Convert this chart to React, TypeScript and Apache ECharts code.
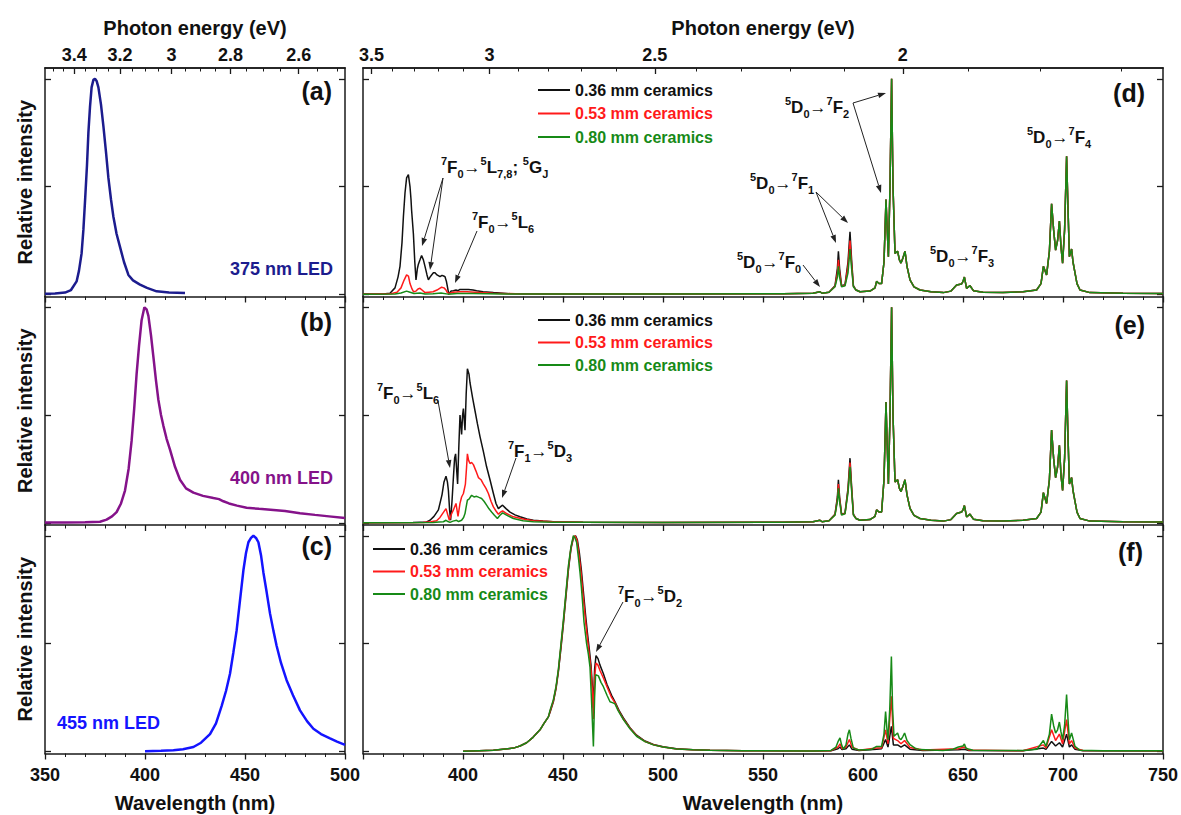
import React, { useEffect, useRef } from 'react';
import * as echarts from 'echarts';

const FONT = 'Arial, "Liberation Sans", sans-serif';
const HC = 1239.84;

// ---------- axis values ----------
const Y_TICKS = [0, 0.5, 1];
const EV_MAJOR_LEFT = [3.4, 3.2, 3.0, 2.8, 2.6];
const EV_MINOR_LEFT = [3.5, 3.45, 3.4, 3.35, 3.3, 3.25, 3.2, 3.15, 3.1, 3.05, 3.0, 2.95, 2.9, 2.85, 2.8, 2.75, 2.7, 2.65, 2.6, 2.55, 2.5];
const EV_MAJOR_RIGHT = [3.5, 3.0, 2.5, 2.0];
const EV_MINOR_RIGHT = [3.5, 3.4, 3.3, 3.2, 3.1, 3.0, 2.9, 2.8, 2.7, 2.6, 2.5, 2.4, 2.3, 2.2, 2.1, 2.0, 1.9, 1.8, 1.7];

// ---------- LED spectra ----------
const LED375 = [[350,0.003],[355,0.004],[360,0.008],[363,0.02],[365.8,0.06],[367,0.11],[368.3,0.19],[369.2,0.3],[370,0.43],[371,0.6],[371.7,0.75],[372.5,0.87],[373.3,0.96],[374.2,0.995],[375,1.0],[375.8,0.99],[376.7,0.96],[378,0.88],[379.2,0.78],[380.5,0.66],[381.7,0.54],[383,0.44],[384.2,0.36],[385.8,0.28],[387.5,0.22],[389.5,0.15],[391.7,0.09],[394,0.065],[397.5,0.045],[401,0.03],[405.8,0.014],[412,0.009],[420,0.006]];
const LED400 = [[350,0.002],[360,0.002],[370,0.003],[377.5,0.005],[380.8,0.015],[383.5,0.03],[385.8,0.05],[388,0.09],[390,0.15],[391.8,0.25],[393.3,0.38],[394.6,0.53],[395.8,0.69],[397,0.82],[398.3,0.94],[399.7,1.0],[400.8,0.99],[401.7,0.96],[403,0.87],[404.2,0.77],[405.5,0.66],[406.7,0.57],[408,0.5],[409.2,0.45],[410.8,0.39],[412.5,0.34],[415,0.26],[417.5,0.2],[420.5,0.16],[424.2,0.14],[429,0.125],[434.2,0.115],[437,0.11],[439.2,0.1],[442,0.09],[446,0.08],[450.8,0.07],[457,0.065],[464.2,0.06],[470,0.055],[477.5,0.045],[485,0.037],[492,0.03],[500,0.022]];
const LED455 = [[400,0.001],[408,0.003],[414.2,0.005],[419,0.01],[424.2,0.02],[428,0.04],[432.5,0.08],[435.5,0.13],[438.3,0.21],[440.5,0.28],[442.5,0.36],[444.2,0.46],[445.8,0.56],[447.5,0.7],[449.2,0.84],[450.5,0.92],[451.7,0.97],[453,0.99],[454.2,1.0],[455.5,0.99],[456.7,0.97],[458,0.91],[459.2,0.83],[460.8,0.74],[462.5,0.64],[464.2,0.56],[465.8,0.49],[468,0.41],[470.8,0.33],[474,0.26],[477.5,0.19],[481,0.14],[484.2,0.105],[488,0.08],[492.5,0.06],[496,0.045],[500,0.03]];

// ---------- (d) 375 nm excitation ----------
const D_BLACK_EXC = [[350,0.002],[360,0.002],[363.5,0.005],[366,0.03],[367.5,0.08],[368.5,0.13],[369.5,0.24],[370.2,0.36],[371,0.47],[371.8,0.54],[372.7,0.555],[373.5,0.5],[374,0.44],[374.3,0.39],[375.2,0.28],[375.9,0.15],[376.5,0.067],[377.2,0.12],[377.7,0.14],[378.5,0.16],[379.3,0.18],[380.2,0.16],[381,0.13],[382,0.09],[382.7,0.067],[383.5,0.08],[384.3,0.09],[385.2,0.1],[386,0.1],[387,0.09],[388.5,0.082],[389.5,0.088],[390.3,0.085],[391,0.082],[391.7,0.06],[392.2,0.036],[392.7,0.01],[393.2,0.005],[394,0.015],[395.2,0.017],[396.5,0.02],[397.5,0.017],[398.5,0.023],[400.5,0.022],[402.7,0.023],[405,0.02],[406.8,0.017],[410,0.012],[415.2,0.008],[423.5,0.003],[440,0.002]];
const D_RED_EXC = [[350,0.001],[364,0.003],[367,0.01],[369,0.03],[370.5,0.065],[371.8,0.09],[372.7,0.085],[373.5,0.05],[374.5,0.025],[375.3,0.012],[376.5,0.015],[377.5,0.025],[378.5,0.028],[379.5,0.02],[381,0.008],[383,0.01],[385,0.012],[387,0.02],[389.3,0.033],[390.5,0.03],[391.5,0.02],[392.2,0.008],[393,0.004],[395,0.01],[398.5,0.012],[402,0.012],[406,0.01],[415,0.005],[430,0.002]];
const D_GREEN_EXC = [[350,0.001],[366,0.002],[369,0.006],[371.8,0.015],[373.5,0.01],[375.5,0.004],[378.5,0.006],[381,0.002],[385,0.003],[389,0.006],[392.5,0.001],[397,0.004],[405,0.004],[420,0.002]];
const D_BASE = [[450,0.002],[500,0.002],[560,0.003],[575,0.005],[578.5,0.012],[579.5,0.005],[583,0.01]];
const D_BLACK_F1 = [[586,0.04],[587.2,0.12],[587.7,0.2],[588.3,0.12],[589.3,0.04],[591,0.045],[592.5,0.15],[593.5,0.29],[594.3,0.16],[595.2,0.04],[596.5,0.02],[598.5,0.012]];
const D_RED_F1 = [[586,0.037],[587.2,0.1],[587.7,0.16],[588.3,0.1],[589.3,0.037],[591,0.042],[592.5,0.13],[593.5,0.25],[594.3,0.14],[595.2,0.037],[596.5,0.02],[598.5,0.012]];
const D_GREEN_F1 = [[586,0.035],[587.2,0.08],[587.7,0.13],[588.3,0.08],[589.3,0.035],[591,0.04],[592.5,0.1],[593.5,0.21],[594.3,0.12],[595.2,0.035],[596.5,0.02],[598.5,0.012]];
const D_EM_REST = [[603.5,0.015],[606,0.03],[606.8,0.06],[608,0.05],[609.3,0.05],[610.5,0.15],[611.5,0.44],[612.2,0.28],[612.7,0.175],[613.5,0.5],[614.3,1.0],[615,0.5],[616,0.19],[617.3,0.2],[618.2,0.16],[619,0.145],[620,0.17],[621,0.2],[622,0.13],[623.5,0.067],[625.5,0.035],[628.5,0.02],[634,0.012],[640.2,0.008],[644,0.015],[646.8,0.043],[649.3,0.048],[650,0.06],[650.7,0.08],[651.8,0.028],[653.5,0.04],[655.2,0.017],[660,0.01],[670,0.008],[680,0.012],[686.8,0.02],[689,0.05],[690.2,0.13],[691.8,0.09],[693.2,0.2],[694.3,0.42],[695.3,0.3],[696.3,0.205],[697.3,0.25],[698.2,0.34],[699,0.22],[699.8,0.145],[700.8,0.3],[701.8,0.64],[702.5,0.4],[703.2,0.175],[704.3,0.21],[705,0.15],[706,0.1],[707,0.05],[708.5,0.02],[713.5,0.008],[730,0.005],[750,0.004]];

// ---------- (e) 400 nm excitation ----------
const E_BLACK_EXC = [[350,0.001],[375,0.002],[381.8,0.004],[383.5,0.012],[385.5,0.03],[387.7,0.06],[389.5,0.13],[390.5,0.19],[391.5,0.216],[392.2,0.19],[392.7,0.15],[393.3,0.06],[393.8,0.012],[394.5,0.1],[395.2,0.21],[395.8,0.3],[396.3,0.32],[396.8,0.25],[397.3,0.18],[397.9,0.35],[398.5,0.5],[399,0.45],[399.3,0.41],[399.8,0.5],[400.2,0.53],[400.6,0.48],[401,0.43],[401.6,0.6],[402.2,0.715],[403,0.69],[403.5,0.65],[404.8,0.58],[406,0.52],[407.2,0.46],[408.5,0.4],[410.2,0.33],[411.8,0.26],[413.5,0.2],[415.2,0.136],[416.5,0.09],[417.7,0.066],[418.8,0.075],[419.8,0.082],[421.5,0.066],[423.5,0.05],[426,0.037],[428.5,0.028],[432,0.018],[435.2,0.012],[440,0.008],[445.2,0.005]];
const E_RED_EXC = [[350,0.001],[380,0.002],[384,0.005],[386.8,0.01],[388.5,0.025],[390.3,0.05],[391.5,0.066],[392.3,0.04],[393.2,0.012],[394.2,0.04],[395.2,0.06],[396.5,0.09],[397.5,0.03],[398.5,0.09],[399.3,0.12],[400.2,0.136],[401.2,0.18],[401.8,0.26],[402.2,0.32],[402.8,0.29],[403.5,0.275],[404.3,0.28],[405.2,0.27],[406.5,0.24],[407.7,0.21],[409,0.2],[410.2,0.18],[411.5,0.16],[412.7,0.136],[414,0.1],[415.2,0.074],[416.5,0.055],[417.7,0.04],[418.8,0.05],[419.8,0.056],[422,0.042],[425.2,0.028],[430,0.018],[435.2,0.01],[445,0.005]];
const E_GREEN_EXC = [[350,0.001],[385,0.002],[388,0.004],[390.2,0.005],[391.5,0.012],[392.5,0.006],[393.5,0.002],[395,0.008],[396.8,0.012],[397.8,0.006],[399.3,0.012],[400.3,0.025],[401,0.043],[401.7,0.08],[402.2,0.105],[403,0.11],[404.3,0.128],[405.5,0.12],[406.8,0.123],[408,0.118],[409.3,0.113],[410.5,0.1],[411.8,0.082],[413,0.065],[414.3,0.05],[415.7,0.035],[417.2,0.02],[418.5,0.035],[419.8,0.046],[422,0.035],[425.2,0.02],[430,0.01],[435.2,0.005],[445,0.003]];
const E_BASE = [[460,0.003],[500,0.002],[560,0.003],[575,0.005],[578.5,0.012],[579.5,0.005],[583,0.01]];
const E_BLACK_F1 = [[586,0.04],[587.2,0.12],[587.7,0.2],[588.3,0.12],[589.3,0.04],[591,0.045],[592.5,0.16],[593.5,0.3],[594.3,0.17],[595.2,0.04],[596.5,0.02],[598.5,0.012]];
const E_RED_F1 = [[586,0.038],[587.2,0.11],[587.7,0.18],[588.3,0.11],[589.3,0.038],[591,0.043],[592.5,0.15],[593.5,0.28],[594.3,0.16],[595.2,0.038],[596.5,0.02],[598.5,0.012]];
const E_GREEN_F1 = [[586,0.036],[587.2,0.1],[587.7,0.16],[588.3,0.1],[589.3,0.036],[591,0.042],[592.5,0.14],[593.5,0.26],[594.3,0.15],[595.2,0.036],[596.5,0.02],[598.5,0.012]];
const E_EM_REST = [[603.5,0.015],[606,0.03],[606.8,0.06],[608,0.05],[609.3,0.05],[610.5,0.2],[611.5,0.56],[612.2,0.33],[612.7,0.18],[613.5,0.5],[614.3,1.0],[615,0.5],[616,0.19],[617.3,0.2],[618.2,0.16],[619,0.145],[620,0.17],[621,0.2],[622,0.13],[623.5,0.067],[625.5,0.035],[628.5,0.02],[634,0.012],[640.2,0.008],[644,0.015],[646.8,0.043],[649.3,0.05],[650,0.06],[650.7,0.08],[651.8,0.028],[653.5,0.04],[655.2,0.017],[660,0.01],[670,0.008],[680,0.012],[686.8,0.02],[689,0.05],[690.2,0.14],[691.8,0.09],[693.2,0.2],[694.3,0.43],[695.3,0.3],[696.3,0.21],[697.3,0.26],[698.2,0.36],[699,0.22],[699.8,0.15],[700.8,0.3],[701.8,0.66],[702.5,0.4],[703.2,0.18],[704.3,0.21],[705,0.15],[706,0.1],[707,0.05],[708.5,0.02],[713.5,0.008],[730,0.005],[750,0.004]];

// ---------- (f) 455 nm excitation ----------
const F_BLACK_EXC = [[400,0.0],[408,0.003],[415.2,0.005],[420,0.01],[425.2,0.015],[428.5,0.025],[431.8,0.04],[435,0.065],[438.5,0.1],[440.5,0.13],[442.7,0.16],[443.5,0.18],[445.2,0.23],[446.5,0.29],[447.7,0.37],[449,0.48],[450.2,0.59],[451.5,0.72],[452.7,0.84],[454,0.94],[455.2,0.99],[456.3,1.0],[457.2,0.98],[458.2,0.92],[459.2,0.84],[460.2,0.74],[461.2,0.64],[462.2,0.55],[463.2,0.47],[464,0.4],[464.7,0.3],[465.2,0.2],[465.8,0.38],[466.5,0.444],[467.5,0.43],[468.5,0.4],[470.2,0.36],[472,0.31],[474.3,0.26],[476,0.23],[478,0.19],[480.2,0.155],[483.5,0.11],[486.8,0.075],[491,0.048],[495.2,0.032],[500,0.021],[506.8,0.012],[515,0.007],[523.5,0.005],[540,0.003],[575,0.002]];
const F_RED_EXC = [[400,0.0],[408,0.003],[415.2,0.005],[420,0.01],[425.2,0.015],[428.5,0.025],[431.8,0.04],[435,0.065],[438.5,0.1],[440.5,0.13],[442.7,0.16],[443.5,0.185],[445.2,0.235],[446.5,0.295],[447.7,0.375],[449,0.49],[450.2,0.6],[451.5,0.73],[452.7,0.85],[454,0.945],[455.2,0.995],[456,1.0],[457,0.98],[458,0.91],[459,0.83],[460,0.73],[461,0.63],[462,0.54],[463,0.46],[464,0.38],[464.7,0.28],[465.2,0.15],[465.8,0.34],[466.5,0.41],[467.5,0.4],[468.5,0.375],[470.2,0.34],[472,0.3],[474.3,0.25],[476,0.225],[478,0.185],[480.2,0.15],[483.5,0.107],[486.8,0.072],[491,0.046],[495.2,0.031],[500,0.02],[506.8,0.011],[515,0.007],[523.5,0.005],[540,0.003],[575,0.002]];
const F_GREEN_EXC = [[400,0.0],[408,0.003],[415.2,0.005],[420,0.01],[425.2,0.015],[428.5,0.025],[431.8,0.04],[435,0.065],[438.5,0.1],[440.5,0.13],[442.7,0.16],[443.5,0.19],[445.2,0.24],[446.5,0.3],[447.7,0.38],[449,0.5],[450.2,0.61],[451.5,0.74],[452.7,0.86],[454,0.95],[455.2,1.0],[456,0.99],[456.8,0.97],[457.7,0.9],[458.5,0.83],[459.2,0.76],[459.8,0.69],[460.5,0.6],[461.8,0.5],[462.7,0.45],[463.5,0.39],[464.2,0.25],[465.2,0.023],[465.8,0.25],[466.3,0.355],[467.7,0.35],[469,0.32],[470.2,0.3],[472,0.26],[473.5,0.23],[475,0.225],[476,0.22],[477.5,0.19],[480.2,0.147],[483.5,0.105],[486.8,0.07],[491,0.045],[495.2,0.03],[500,0.02],[506.8,0.011],[515,0.007],[523.5,0.005],[540,0.003],[575,0.002]];
const F_BLACK_EM = [[584,0.003],[587.5,0.012],[588.5,0.02],[589.5,0.008],[591.5,0.012],[593.2,0.03],[594.5,0.01],[598,0.004],[606.8,0.01],[609.3,0.012],[611.3,0.055],[612.5,0.02],[614.2,0.116],[615.2,0.03],[617.3,0.03],[619,0.02],[620.8,0.03],[623.5,0.01],[630,0.004],[647.7,0.007],[650.7,0.01],[653,0.004],[680,0.003],[690.2,0.015],[691.5,0.009],[694.3,0.046],[696.3,0.025],[698.2,0.04],[699.8,0.02],[701.8,0.08],[703.2,0.02],[704.3,0.03],[706,0.01],[710,0.003],[750,0.002]];
const F_RED_EM = [[584,0.003],[587.5,0.02],[588.5,0.035],[589.5,0.012],[591.5,0.02],[593.2,0.055],[594.5,0.02],[598,0.005],[606.8,0.015],[609.3,0.016],[611.3,0.1],[612.5,0.035],[614.2,0.255],[615.2,0.06],[617.3,0.05],[619,0.035],[620.8,0.05],[623.5,0.018],[630,0.006],[647.7,0.012],[650.7,0.02],[653,0.006],[680,0.003],[690.2,0.03],[691.5,0.015],[694.3,0.1],[696.3,0.05],[698.2,0.08],[699.8,0.035],[701.8,0.147],[703.2,0.035],[704.3,0.05],[706,0.015],[710,0.004],[750,0.003]];
const F_GREEN_EM = [[584,0.004],[586.5,0.02],[587.5,0.045],[588.5,0.062],[589.3,0.03],[590.2,0.01],[591.5,0.03],[592.5,0.08],[593.2,0.1],[594,0.06],[595.2,0.015],[598,0.006],[604,0.008],[606.8,0.023],[609.3,0.023],[610.5,0.08],[611.3,0.185],[612,0.1],[612.5,0.054],[613.4,0.2],[614.2,0.44],[614.8,0.2],[615.5,0.07],[617.3,0.085],[618.2,0.06],[619,0.054],[620,0.07],[620.8,0.085],[622,0.05],[623.5,0.031],[626,0.015],[628.5,0.008],[640,0.004],[645,0.01],[647.7,0.02],[650,0.025],[650.7,0.034],[651.5,0.015],[652.7,0.011],[655,0.005],[680,0.004],[687,0.01],[690.2,0.05],[691.5,0.023],[693.2,0.08],[694.3,0.173],[695.3,0.12],[696.3,0.085],[697.3,0.1],[698.2,0.136],[699,0.09],[699.8,0.054],[700.8,0.12],[701.8,0.263],[702.5,0.15],[703.2,0.054],[704.3,0.085],[705,0.06],[706,0.023],[708.5,0.005],[720,0.003],[750,0.003]];

const D_BLACK = [...D_BLACK_EXC, ...D_BASE, ...D_BLACK_F1, ...D_EM_REST];
const D_RED = [...D_RED_EXC, ...D_BASE, ...D_RED_F1, ...D_EM_REST];
const D_GREEN = [...D_GREEN_EXC, ...D_BASE, ...D_GREEN_F1, ...D_EM_REST];
const E_BLACK = [...E_BLACK_EXC, ...E_BASE, ...E_BLACK_F1, ...E_EM_REST];
const E_RED = [...E_RED_EXC, ...E_BASE, ...E_RED_F1, ...E_EM_REST];
const E_GREEN = [...E_GREEN_EXC, ...E_BASE, ...E_GREEN_F1, ...E_EM_REST];
const F_BLACK = [...F_BLACK_EXC, ...F_BLACK_EM];
const F_RED = [...F_RED_EXC, ...F_RED_EM];
const F_GREEN = [...F_GREEN_EXC, ...F_GREEN_EM];

const LEGEND_NAMES = ['0.36 mm ceramics', '0.53 mm ceramics', '0.80 mm ceramics'];

// ---------- colors ----------
const C_NAVY = '#1c1c8e';
const C_PURPLE = '#85128a';
const C_BLUE = '#1414ff';
const C_BLACK = '#111111';
const C_RED = '#ff1a1a';
const C_GREEN = '#178a17';
const AXIS_C = '#1a1a1a';

// ---------- layout ----------
const GRIDS = [
  { left: 45, top: 68, width: 300, height: 228.5 },
  { left: 45, top: 296.5, width: 300, height: 228.5 },
  { left: 45, top: 525, width: 300, height: 228.5 },
  { left: 363, top: 68, width: 800, height: 228.5 },
  { left: 363, top: 296.5, width: 800, height: 228.5 },
  { left: 363, top: 525, width: 800, height: 228.5 },
];

const labelFont = { fontFamily: FONT, fontWeight: 'bold' as const, color: '#111' };

function bottomAxis(g: number, max: number, showLabels: boolean, hideMin: boolean) {
  return {
    type: 'value', gridIndex: g, position: 'bottom', min: 350, max, interval: 50,
    axisLine: { show: true, onZero: false, lineStyle: { color: AXIS_C, width: 1.5 } },
    axisTick: { show: true, length: 6, lineStyle: { color: AXIS_C, width: 1.3 } },
    minorTick: { show: true, splitNumber: 5, length: 3.5, lineStyle: { color: AXIS_C, width: 1 } },
    axisLabel: { show: showLabels, fontSize: 18, margin: 12, showMinLabel: !hideMin, ...labelFont },
    splitLine: { show: false }, minorSplitLine: { show: false },
    name: showLabels ? 'Wavelength (nm)' : '', nameLocation: 'middle', nameGap: 39,
    nameTextStyle: { fontSize: 20, ...labelFont },
  };
}

function energyAxis(g: number, max: number, ev: number[], major: boolean, name: string) {
  const vals = ev.map((e) => HC / e);
  return {
    type: 'value', gridIndex: g, position: 'top', min: 350, max,
    axisLine: { show: true, onZero: false, lineStyle: { color: AXIS_C, width: 1.5 } },
    axisTick: { show: true, inside: true, length: major ? 6 : 3.5, customValues: vals, lineStyle: { color: AXIS_C, width: major ? 1.3 : 1 } },
    axisLabel: major
      ? { show: true, customValues: vals, fontSize: 18, margin: 4, ...labelFont, formatter: (v: number) => String(parseFloat((HC / v).toFixed(2))) }
      : { show: false },
    splitLine: { show: false },
    name: major ? name : '', nameLocation: 'middle', nameGap: 30,
    nameTextStyle: { fontSize: 20, ...labelFont },
  };
}

function yAxis(g: number, pos: string, name: string) {
  return {
    type: 'value', gridIndex: g, position: pos, min: -0.01, max: 1.05,
    axisLine: { show: true, onZero: false, lineStyle: { color: AXIS_C, width: 1.5 } },
    axisTick: { show: true, inside: true, length: 6, customValues: Y_TICKS, lineStyle: { color: AXIS_C, width: 1.3 } },
    axisLabel: { show: false }, splitLine: { show: false },
    name, nameLocation: 'middle', nameGap: 10,
    nameTextStyle: { fontSize: 20, ...labelFont },
  };
}

function line(data: number[][], color: string, width: number, xi: number, yi: number, name?: string) {
  return {
    type: 'line', name, data, xAxisIndex: xi, yAxisIndex: yi, showSymbol: false, symbol: 'none',
    lineStyle: { color, width }, itemStyle: { color }, silent: true, z: 3, animation: false,
  };
}

// ---------- annotation helpers ----------
const RICH = {
  m: { fontSize: 17, fontWeight: 'bold', fontFamily: FONT, fill: '#111', lineHeight: 24 },
  p: { fontSize: 11, fontWeight: 'bold', fontFamily: FONT, fill: '#111', verticalAlign: 'top', lineHeight: 12 },
  b: { fontSize: 11, fontWeight: 'bold', fontFamily: FONT, fill: '#111', verticalAlign: 'bottom', lineHeight: 12 },
  a: { fontSize: 17, fontWeight: 'normal', fontFamily: FONT, fill: '#111', lineHeight: 24 },
};

function rt(text: string, x: number, y: number) {
  return {
    type: 'text', x, y, z: 100, silent: true,
    style: { text, rich: RICH, align: 'left', verticalAlign: 'middle', textAlign: 'left', textVerticalAlign: 'middle', fontSize: 17, fontFamily: FONT, fontWeight: 'bold', fill: '#111' },
  };
}

function txt(text: string, x: number, y: number, size: number, color: string, align = 'left') {
  return {
    type: 'text', x, y, z: 100, silent: true,
    style: { text, fontSize: size, fontFamily: FONT, fontWeight: 'bold', fill: color, align, verticalAlign: 'middle', textAlign: align, textVerticalAlign: 'middle' },
  };
}

function arrow(x1: number, y1: number, x2: number, y2: number) {
  const ang = Math.atan2(y2 - y1, x2 - x1);
  const L = 8, W = 2.8;
  const bx = x2 - L * Math.cos(ang), by = y2 - L * Math.sin(ang);
  const px = -Math.sin(ang) * W, py = Math.cos(ang) * W;
  return [
    { type: 'line', z: 100, silent: true, shape: { x1, y1, x2: bx, y2: by }, style: { stroke: '#222', lineWidth: 1 } },
    { type: 'polygon', z: 100, silent: true, shape: { points: [[x2, y2], [bx + px, by + py], [bx - px, by - py]] }, style: { fill: '#222' } },
  ];
}

function legend(x: number, y0: number, dy: number) {
  const cols = [C_BLACK, C_RED, C_GREEN];
  const out: any[] = [];
  LEGEND_NAMES.forEach((n, i) => {
    const y = y0 + i * dy;
    out.push({ type: 'line', z: 100, silent: true, shape: { x1: x, y1: y, x2: x + 32, y2: y }, style: { stroke: cols[i], lineWidth: 2 } });
    out.push(txt(n, x + 37, y, 16, cols[i]));
  });
  return out;
}

const T_L78 = '{p|7}{m|F}{b|0}{a|→}{p|5}{m|L}{b|7,8}{m|; }{p|5}{m|G}{b|J}';
const T_L6 = '{p|7}{m|F}{b|0}{a|→}{p|5}{m|L}{b|6}';
const T_D2 = '{p|7}{m|F}{b|0}{a|→}{p|5}{m|D}{b|2}';
const T_D3 = '{p|7}{m|F}{b|1}{a|→}{p|5}{m|D}{b|3}';
const t5D0 = (j: string) => `{p|5}{m|D}{b|0}{a|→}{p|7}{m|F}{b|${j}}`;

export default function App() {
  const ref = useRef<HTMLDivElement>(null);
  useEffect(() => {
    const chart = echarts.init(ref.current!, null, { renderer: 'svg' });
    const xAxis: any[] = [
      bottomAxis(0, 500, false, false),
      bottomAxis(1, 500, false, false),
      bottomAxis(2, 500, true, false),
      bottomAxis(3, 750, false, true),
      bottomAxis(4, 750, false, true),
      bottomAxis(5, 750, true, true),
      energyAxis(0, 500, EV_MINOR_LEFT, false, ''),
      energyAxis(0, 500, EV_MAJOR_LEFT, true, 'Photon energy (eV)'),
      energyAxis(3, 750, EV_MINOR_RIGHT, false, ''),
      energyAxis(3, 750, EV_MAJOR_RIGHT, true, 'Photon energy (eV)'),
    ];
    const yAxes: any[] = [];
    for (let g = 0; g < 6; g++) yAxes.push(yAxis(g, 'left', g < 3 ? 'Relative intensity' : ''));
    for (let g = 0; g < 6; g++) yAxes.push(yAxis(g, 'right', ''));

    const series: any[] = [
      line(LED375, C_NAVY, 2.5, 0, 0),
      line(LED400, C_PURPLE, 2.5, 1, 1),
      line(LED455, C_BLUE, 2.5, 2, 2),
      line(D_BLACK, C_BLACK, 1.5, 3, 3, LEGEND_NAMES[0]),
      line(D_RED, C_RED, 1.5, 3, 3, LEGEND_NAMES[1]),
      line(D_GREEN, C_GREEN, 1.5, 3, 3, LEGEND_NAMES[2]),
      line(E_BLACK, C_BLACK, 1.5, 4, 4, LEGEND_NAMES[0]),
      line(E_RED, C_RED, 1.5, 4, 4, LEGEND_NAMES[1]),
      line(E_GREEN, C_GREEN, 1.5, 4, 4, LEGEND_NAMES[2]),
      line(F_BLACK, C_BLACK, 1.5, 5, 5, LEGEND_NAMES[0]),
      line(F_RED, C_RED, 1.5, 5, 5, LEGEND_NAMES[1]),
      line(F_GREEN, C_GREEN, 1.5, 5, 5, LEGEND_NAMES[2]),
    ];

    const graphic: any[] = [
      txt('(a)', 332, 91, 25, '#111', 'right'),
      txt('(b)', 332, 322, 25, '#111', 'right'),
      txt('(c)', 332, 546, 25, '#111', 'right'),
      txt('(d)', 1145, 93, 25, '#111', 'right'),
      txt('(e)', 1145, 325, 25, '#111', 'right'),
      txt('(f)', 1143, 552, 25, '#111', 'right'),
      txt('375 nm LED', 333, 269, 18, C_NAVY, 'right'),
      txt('400 nm LED', 333, 478, 18, C_PURPLE, 'right'),
      txt('455 nm LED', 57, 723, 18, C_BLUE, 'left'),
      ...legend(538, 90, 23.5),
      ...legend(538, 320, 22.5),
      ...legend(373, 549, 22.5),
      rt(T_L78, 441, 167),
      rt(T_L6, 472, 222),
      rt(t5D0('2'), 785, 107),
      rt(t5D0('1'), 750, 183),
      rt(t5D0('0'), 737, 262),
      rt(t5D0('3'), 930, 256),
      rt(t5D0('4'), 1027, 137),
      rt(T_L6, 377, 393),
      rt(T_D3, 508, 451),
      rt(T_D2, 618, 596),
      ...arrow(443, 178, 422, 246),
      ...arrow(443, 178, 430, 270),
      ...arrow(477, 231, 455, 283),
      ...arrow(853, 103, 886, 93),
      ...arrow(853, 103, 881, 193),
      ...arrow(816, 192, 836, 243),
      ...arrow(816, 192, 848, 223),
      ...arrow(803, 265, 820, 287),
      ...arrow(438, 401, 450, 468),
      ...arrow(516, 458, 502, 498),
      ...arrow(623, 602, 596, 652),
    ];

    chart.setOption({
      animation: false,
      backgroundColor: '#ffffff',
      grid: GRIDS.map((g) => ({ ...g, containLabel: false })),
      xAxis,
      yAxis: yAxes,
      series,
      graphic,
    });
    return () => chart.dispose();
  }, []);
  return (
    <div
      ref={ref}
      style={{ position: 'fixed', left: 0, top: 0, width: 1181, height: 815, background: '#fff' }}
    />
  );
}
